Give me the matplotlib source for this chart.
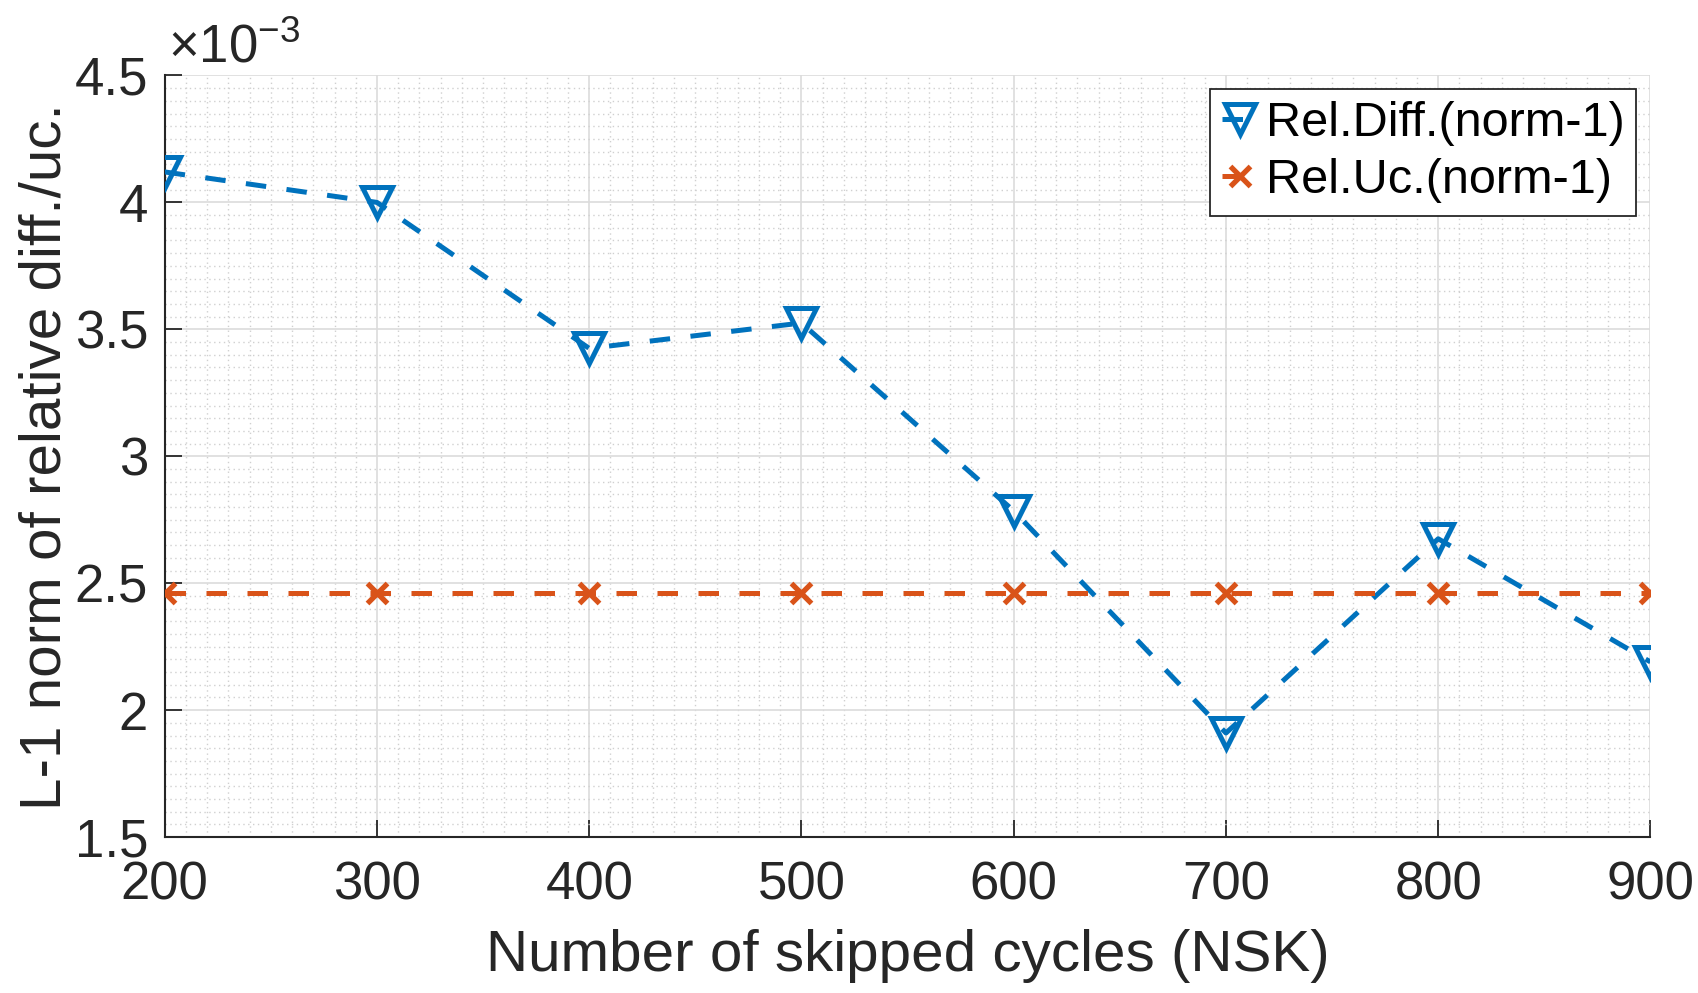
import matplotlib.pyplot as plt
import numpy as np
from matplotlib.ticker import FuncFormatter, MultipleLocator

plt.rcParams["font.family"] = ["Liberation Sans", "DejaVu Sans"]
plt.rcParams["mathtext.fontset"] = "custom"
plt.rcParams["mathtext.rm"] = "Liberation Sans"

nsk = [200, 300, 400, 500, 600, 700, 800, 900]
rel_diff = np.array([4.12, 4.00, 3.425, 3.525, 2.785, 1.91, 2.675, 2.19]) * 1e-3
rel_uc = np.array([2.46, 2.46, 2.46, 2.46, 2.46, 2.46, 2.46, 2.46]) * 1e-3

BLUE = "#0072BD"
ORANGE = "#D95319"
AXIS = "#262626"
DASH = (4.1, 4.1)

fig = plt.figure(figsize=(16.98, 9.93), dpi=100)
ax = fig.add_axes([0.097, 0.157, 0.875, 0.767])

ax.plot(nsk, rel_diff, linestyle="--", dashes=DASH, color=BLUE, linewidth=3.6,
        marker="v", markersize=22, markerfacecolor="none", markeredgewidth=3.6,
        label="Rel.Diff.(norm-1)", zorder=3)
ax.plot(nsk, rel_uc, linestyle="--", dashes=DASH, color=ORANGE, linewidth=3.6,
        marker="x", markersize=14, markeredgewidth=3.8,
        label="Rel.Uc.(norm-1)", zorder=3)

ax.set_xlim(200, 900)
ax.set_ylim(1.5e-3, 4.5e-3)
ax.xaxis.set_major_locator(MultipleLocator(100))
ax.xaxis.set_minor_locator(MultipleLocator(10))
ax.yaxis.set_major_locator(MultipleLocator(0.5e-3))
ax.yaxis.set_minor_locator(MultipleLocator(0.05e-3))
ax.yaxis.set_major_formatter(FuncFormatter(lambda v, _: f"{v * 1e3:g}"))

# MATLAB-like grid: solid light major lines, dotted minor lines
ax.grid(which="major", color="#dcdcdc", linewidth=1.2, linestyle="-")
ax.grid(which="minor", color="#d0d0d0", linewidth=1.0, linestyle=(0, (1, 2.5)))
ax.set_axisbelow(True)

for side in ("top", "right"):
    ax.spines[side].set_visible(False)
for side in ("left", "bottom"):
    ax.spines[side].set_color(AXIS)
    ax.spines[side].set_linewidth(1.5)

ax.tick_params(axis="x", which="major", direction="in", length=12, width=1.3,
               colors=AXIS, labelsize=38, pad=16.5)
ax.tick_params(axis="y", which="major", direction="in", length=12, width=1.3,
               colors=AXIS, labelsize=38, pad=12)
ax.tick_params(which="minor", length=0)

ax.set_xlabel("Number of skipped cycles (NSK)", fontsize=42, color=AXIS)
ax.set_ylabel("L-1 norm of relative diff./uc.", fontsize=42, color=AXIS)
ax.xaxis.set_label_coords(0.5, -0.1207)
ax.yaxis.set_label_coords(-0.062, 0.5)

ax.text(0.002, 1.017, r"$\mathregular{\times10^{-3}}$", transform=ax.transAxes,
        fontsize=38, color=AXIS, ha="left", va="baseline")

leg = ax.legend(loc="upper right", bbox_to_anchor=(0.9906, 0.982), fontsize=35,
                handlelength=0.75, handletextpad=0.15, borderpad=0.25,
                labelspacing=0.25, borderaxespad=0, fancybox=False, framealpha=1)
leg.get_frame().set_edgecolor(AXIS)
leg.get_frame().set_linewidth(1.3)

fig.savefig("out.png", dpi=100)
